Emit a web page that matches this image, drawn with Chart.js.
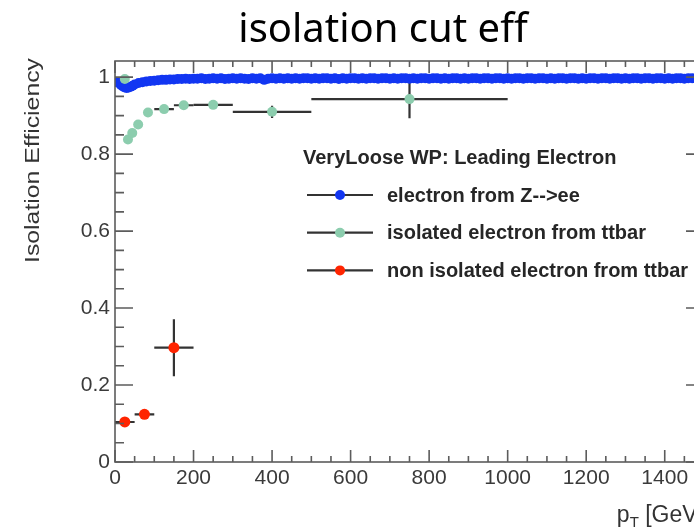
<!DOCTYPE html>
<html>
<head>
<meta charset="utf-8">
<script src="https://cdn.jsdelivr.net/npm/chart.js@4.4.0/dist/chart.umd.min.js"></script>
<style>
  html, body { margin: 0; padding: 0; background: #fff; overflow: hidden; }
  #wrap { width: 694px; height: 529px; overflow: hidden; }
</style>
</head>
<body>
<div id="wrap"><canvas id="effChart" width="766" height="529"></canvas></div>
<script>
// electron from Z-->ee
const zeeX = [5, 10, 15, 20, 25, 30, 35, 40, 45, 50,
  60, 70, 80, 90, 100, 110, 120, 130, 140, 150,
  160, 170, 180, 190, 200, 210, 220, 230, 240, 250,
  260, 270, 280, 290, 300, 310, 320, 330, 340, 350,
  360, 370, 380, 390, 400, 410, 420, 430, 440, 450,
  460, 470, 480, 490, 500, 510, 520, 530, 540, 550,
  560, 570, 580, 590, 600, 610, 620, 630, 640, 650,
  660, 670, 680, 690, 700, 710, 720, 730, 740, 750,
  760, 770, 780, 790, 800, 810, 820, 830, 840, 850,
  860, 870, 880, 890, 900, 910, 920, 930, 940, 950,
  960, 970, 980, 990, 1000, 1010, 1020, 1030, 1040, 1050,
  1060, 1070, 1080, 1090, 1100, 1110, 1120, 1130, 1140, 1150,
  1160, 1170, 1180, 1190, 1200, 1210, 1220, 1230, 1240, 1250,
  1260, 1270, 1280, 1290, 1300, 1310, 1320, 1330, 1340, 1350,
  1360, 1370, 1380, 1390, 1400, 1410, 1420, 1430, 1440, 1450,
  1460, 1470, 1480, 1490, 1500];
const zeeY = [0.987, 0.985, 0.980, 0.976, 0.973, 0.972, 0.973, 0.975, 0.978, 0.981,
  0.985, 0.987, 0.989, 0.990, 0.991, 0.992, 0.993, 0.993, 0.994, 0.994,
  0.995, 0.995, 0.996, 0.995, 0.996, 0.996, 0.997, 0.995, 0.996, 0.997,
  0.996, 0.997, 0.995, 0.996, 0.997, 0.996, 0.997, 0.996, 0.995, 0.997,
  0.996, 0.997, 0.993, 0.996, 0.997, 0.996, 0.997, 0.996, 0.997, 0.996,
  0.997, 0.996, 0.997, 0.997, 0.996, 0.997, 0.996, 0.997, 0.997, 0.996,
  0.997, 0.995, 0.997, 0.996, 0.997, 0.997, 0.996, 0.997, 0.996, 0.997,
  0.997, 0.996, 0.997, 0.997, 0.996, 0.997, 0.996, 0.997, 0.997, 0.996,
  0.997, 0.996, 0.997, 0.997, 0.996, 0.997, 0.997, 0.996, 0.997, 0.996,
  0.997, 0.997, 0.996, 0.997, 0.996, 0.997, 0.997, 0.996, 0.997, 0.997,
  0.996, 0.997, 0.997, 0.996, 0.997, 0.996, 0.997, 0.997, 0.996, 0.997,
  0.997, 0.996, 0.997, 0.997, 0.996, 0.997, 0.996, 0.997, 0.997, 0.996,
  0.997, 0.997, 0.996, 0.997, 0.996, 0.997, 0.997, 0.996, 0.997, 0.997,
  0.996, 0.997, 0.997, 0.996, 0.997, 0.996, 0.997, 0.997, 0.996, 0.997,
  0.997, 0.996, 0.997, 0.997, 0.996, 0.997, 0.996, 0.997, 0.997, 0.996,
  0.997, 0.997, 0.996, 0.997, 0.997];

// isolated electron from ttbar
const isoX = [25, 33, 44, 59, 84, 125, 175, 250, 400, 750];
const isoY = [0.995, 0.838, 0.855, 0.877, 0.908, 0.917, 0.927, 0.928, 0.910, 0.943];
const isoXErr = [5, 5, 5, 5, 10, 25, 25, 50, 100, 250];
const isoYErr = [0.005, 0.005, 0.005, 0.005, 0.005, 0.005, 0.006, 0.008, 0.016, 0.05];

// non isolated electron from ttbar
const nonIsoX = [25, 75, 150];
const nonIsoY = [0.104, 0.124, 0.297];
const nonIsoXErr = [25, 25, 50];
const nonIsoYErr = [0.008, 0.01, 0.074];

const xTickLabels = [0, 200, 400, 600, 800, 1000, 1200, 1400];
const yTickLabels = [0, 0.2, 0.4, 0.6, 0.8, 1];

const legendTitle = 'VeryLoose WP: Leading Electron';
const seriesNames = ['electron from Z-->ee', 'isolated electron from ttbar', 'non isolated electron from ttbar'];
const seriesColors = ['#1236f2', '#8ccdae', '#ff2400'];

function toPoints(xs, ys) {
  return xs.map((x, i) => ({ x: x, y: ys[i] }));
}

function onList(list, v) {
  return list.some(t => Math.abs(t - v) < 1e-6);
}

// error bars (drawn under the markers)
const errorBars = {
  id: 'errorBars',
  beforeDatasetsDraw(chart) {
    const { ctx, chartArea: a, scales: { x, y } } = chart;
    ctx.save();
    ctx.beginPath();
    ctx.rect(a.left, a.top, a.right - a.left, a.bottom - a.top);
    ctx.clip();
    ctx.strokeStyle = '#333';
    ctx.lineWidth = 2.2;
    chart.data.datasets.forEach(ds => {
      if (!ds.xErr) return;
      ds.data.forEach((p, i) => {
        const px = x.getPixelForValue(p.x);
        const py = y.getPixelForValue(p.y);
        ctx.beginPath();
        ctx.moveTo(x.getPixelForValue(p.x - ds.xErr[i]), py);
        ctx.lineTo(x.getPixelForValue(p.x + ds.xErr[i]), py);
        ctx.moveTo(px, y.getPixelForValue(p.y - ds.yErr[i]));
        ctx.lineTo(px, y.getPixelForValue(p.y + ds.yErr[i]));
        ctx.stroke();
      });
    });
    ctx.restore();
  }
};

// ROOT style frame with inward ticks on all four sides
const frameTicks = {
  id: 'frameTicks',
  afterDatasetsDraw(chart) {
    const { ctx, chartArea: a, scales: { x, y } } = chart;
    ctx.save();
    ctx.strokeStyle = '#5c5c5c';
    ctx.lineWidth = 1.6;
    ctx.strokeRect(a.left, a.top, a.right - a.left, a.bottom - a.top);
    ctx.beginPath();
    x.ticks.forEach(t => {
      const px = x.getPixelForValue(t.value);
      const len = onList(xTickLabels, t.value) ? 12 : 6;
      ctx.moveTo(px, a.bottom); ctx.lineTo(px, a.bottom - len);
      ctx.moveTo(px, a.top); ctx.lineTo(px, a.top + len);
    });
    y.ticks.forEach(t => {
      const py = y.getPixelForValue(t.value);
      const len = onList(yTickLabels, t.value) ? 18 : 9;
      ctx.moveTo(a.left, py); ctx.lineTo(a.left + len, py);
      ctx.moveTo(a.right, py); ctx.lineTo(a.right - len, py);
    });
    ctx.stroke();
    ctx.restore();
  }
};

// axis titles and the ROOT legend
const annotations = {
  id: 'annotations',
  afterDraw(chart) {
    const { ctx, chartArea: a } = chart;
    ctx.save();
    // y title, aligned to the top of the axis (stretched like the source image)
    ctx.fillStyle = '#333';
    ctx.font = '21px "Liberation Sans", Arial, sans-serif';
    const yTitle = 'Isolation Efficiency';
    const stretch = 205 / ctx.measureText(yTitle).width;
    ctx.translate(33, a.top - 3);
    ctx.rotate(-Math.PI / 2);
    ctx.scale(stretch, 1);
    ctx.textAlign = 'right';
    ctx.textBaseline = 'middle';
    ctx.fillText(yTitle, 0, 0);
    ctx.restore();

    // x title p_T [GeV], aligned to the right end of the axis
    ctx.save();
    ctx.fillStyle = '#333';
    ctx.textBaseline = 'alphabetic';
    ctx.textAlign = 'left';
    const big = '23px "Liberation Sans", Arial, sans-serif';
    const small = '15px "Liberation Sans", Arial, sans-serif';
    ctx.font = big;
    const wp = ctx.measureText('p').width;
    const wu = ctx.measureText(' [GeV]').width;
    ctx.font = small;
    const wt = ctx.measureText('T').width;
    let cx = a.right - (wp + wt + wu);
    const base = 522;
    ctx.font = big; ctx.fillText('p', cx, base); cx += wp;
    ctx.font = small; ctx.fillText('T', cx, base + 5); cx += wt;
    ctx.font = big; ctx.fillText(' [GeV]', cx, base);
    ctx.restore();

    // legend
    ctx.save();
    ctx.fillStyle = '#262626';
    ctx.font = 'bold 20px "Liberation Sans", Arial, sans-serif';
    ctx.textBaseline = 'middle';
    ctx.textAlign = 'left';
    ctx.fillText(legendTitle, 303, 158);
    seriesNames.forEach((name, i) => {
      const ly = 195 + i * 37.7;
      ctx.strokeStyle = '#333';
      ctx.lineWidth = 2.2;
      ctx.beginPath();
      ctx.moveTo(307, ly); ctx.lineTo(373, ly);
      ctx.stroke();
      ctx.fillStyle = seriesColors[i];
      ctx.beginPath();
      ctx.arc(340, ly, 5, 0, Math.PI * 2);
      ctx.fill();
      ctx.fillStyle = '#262626';
      ctx.fillText(name, 387, ly + 1);
    });
    ctx.restore();
  }
};

const ctx = document.getElementById('effChart').getContext('2d');
new Chart(ctx, {
  type: 'scatter',
  data: {
    datasets: [
      {
        label: seriesNames[0],
        data: toPoints(zeeX, zeeY),
        pointRadius: 5,
        pointBackgroundColor: seriesColors[0],
        pointBorderWidth: 0,
        order: 3
      },
      {
        label: seriesNames[1],
        data: toPoints(isoX, isoY),
        xErr: isoXErr,
        yErr: isoYErr,
        pointRadius: 5,
        pointBackgroundColor: seriesColors[1],
        pointBorderWidth: 0,
        order: 2
      },
      {
        label: seriesNames[2],
        data: toPoints(nonIsoX, nonIsoY),
        xErr: nonIsoXErr,
        yErr: nonIsoYErr,
        pointRadius: 5.5,
        pointBackgroundColor: seriesColors[2],
        pointBorderWidth: 0,
        order: 1
      }
    ]
  },
  options: {
    responsive: false,
    animation: false,
    devicePixelRatio: 1,
    layout: { padding: 0 },
    plugins: {
      legend: { display: false },
      tooltip: { enabled: false },
      title: {
        display: true,
        text: 'isolation cut eff',
        color: '#000',
        font: { family: '"Noto Sans", sans-serif', size: 40, weight: 'normal', lineHeight: 1.2 },
        padding: { top: 7, bottom: 6 }
      }
    },
    scales: {
      x: {
        type: 'linear',
        min: 0,
        max: 1500,
        grid: { display: false, drawTicks: false },
        border: { display: false },
        ticks: {
          stepSize: 50,
          autoSkip: false,
          maxRotation: 0,
          includeBounds: false,
          padding: 4,
          color: '#3a3a3a',
          font: { family: '"Liberation Sans", Arial, sans-serif', size: 21 },
          callback: v => onList(xTickLabels, v) ? String(Math.round(v)) : ''
        },
        afterFit: s => { s.height = 67; }
      },
      y: {
        type: 'linear',
        min: 0,
        max: 1.042,
        grid: { display: false, drawTicks: false },
        border: { display: false },
        ticks: {
          stepSize: 0.05,
          autoSkip: false,
          includeBounds: false,
          padding: 5,
          color: '#3a3a3a',
          font: { family: '"Liberation Sans", Arial, sans-serif', size: 21 },
          callback: v => {
            if (!onList(yTickLabels, v)) return '';
            const r = Math.round(v * 10) / 10;
            return (r === 0 || r === 1) ? String(r) : r.toFixed(1);
          }
        },
        afterFit: s => { s.width = 115; }
      },
      // empty right-hand axis: keeps the frame edge just past the visible window
      yRight: {
        type: 'linear',
        position: 'right',
        min: 0,
        max: 1.042,
        grid: { display: false, drawTicks: false },
        border: { display: false },
        ticks: { display: false },
        afterFit: s => { s.width = 62; }
      }
    }
  },
  plugins: [errorBars, frameTicks, annotations]
});
</script>
</body>
</html>
